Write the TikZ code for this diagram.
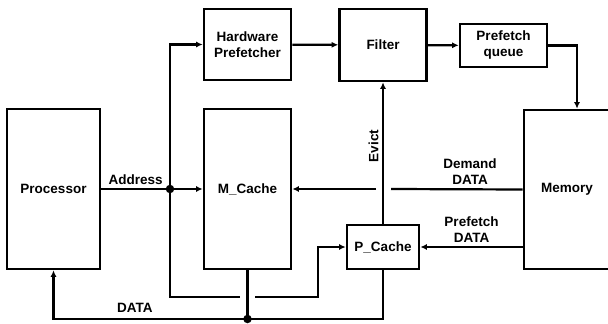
\documentclass[tikz,border=0pt]{standalone}
\usepackage{fontspec}
\setmainfont{Liberation Sans}
\usetikzlibrary{arrows.meta,positioning}

\begin{document}
\begin{tikzpicture}[
    x=1pt, y=-1pt,
    font=\fontsize{13.5}{16}\selectfont\bfseries,
    >={Latex[length=6.5pt,width=6pt]},
    unit/.style={draw, line width=2.6pt, align=center, inner sep=2pt},
    wire/.style={line width=2.2pt},
    dot/.style={circle, fill, inner sep=0pt, minimum size=8.5pt}
  ]
    \useasboundingbox (0,0) rectangle (608,324);
    \clip (0,0) rectangle (608,324);

    \node[unit, minimum width=93, minimum height=160] (proc) at (53.5,189) {Processor};
    \node[unit, minimum width=87, minimum height=71] (hwp) at (247.5,44.5) {Hardware\\Prefetcher};
    \node[unit, minimum width=87, minimum height=160] (mcache) at (247.5,189) {M\_Cache};
    \node[unit, minimum width=87, minimum height=72] (filter) at (383,45) {Filter};
    \node[unit, minimum width=87, minimum height=43] (pqueue) at (503.5,45.5) {Prefetch\\queue};
    \node[unit, minimum width=90, minimum height=159] (memory) at (569,189.5) {\hspace*{-4pt}Memory};
    \node[unit, minimum width=72, minimum height=44] (pcache) at (383,247) {P\_Cache};

    \coordinate (j1) at (170,189);
    \coordinate (j2) at (247.5,319);
    \coordinate (gapL) at (240,297);
    \coordinate (gapR) at (255,297);
    \coordinate (turn) at (318,297);
    \coordinate (dgL) at (376,189);
    \coordinate (dgR) at (391,189);

    \draw[wire] (proc) -- node[above] {Address} (j1);
    \draw[wire,->] (j1) -- (mcache);
    \draw[wire,->] (j1) |- (hwp.west);
    \draw[wire] (j1) |- (gapL);
    \draw[wire,->] (gapR) -- (turn) |- (pcache.west);

    \draw[wire] (mcache.south) -- (j2);
    \draw[wire,->] (j2) -| node[above, pos=0.29, yshift=2pt] {DATA} (proc.south);
    \draw[wire] (j2) -| (pcache.south);

    \draw[wire,->] (hwp) -- (filter);
    \draw[wire,->] (filter) -- (pqueue);
    \draw[wire,->] (pqueue.east) -| ([xshift=8pt]memory.north);

    \draw[wire,->] (pcache) -- node[sloped, above, pos=0.55] {Evict} (filter);

    \draw[wire] (memory.west) -- node[above, pos=0.4, align=center] {Demand\\DATA} (dgR);
    \draw[wire,->] (dgL) -- (mcache.east);
    \draw[wire,->] (memory.west |- pcache) -- node[above, align=center] {Prefetch\\DATA} (pcache.east);

    \node[dot] at (j1) {};
    \node[dot] at (j2) {};
  \end{tikzpicture}
\end{document}
